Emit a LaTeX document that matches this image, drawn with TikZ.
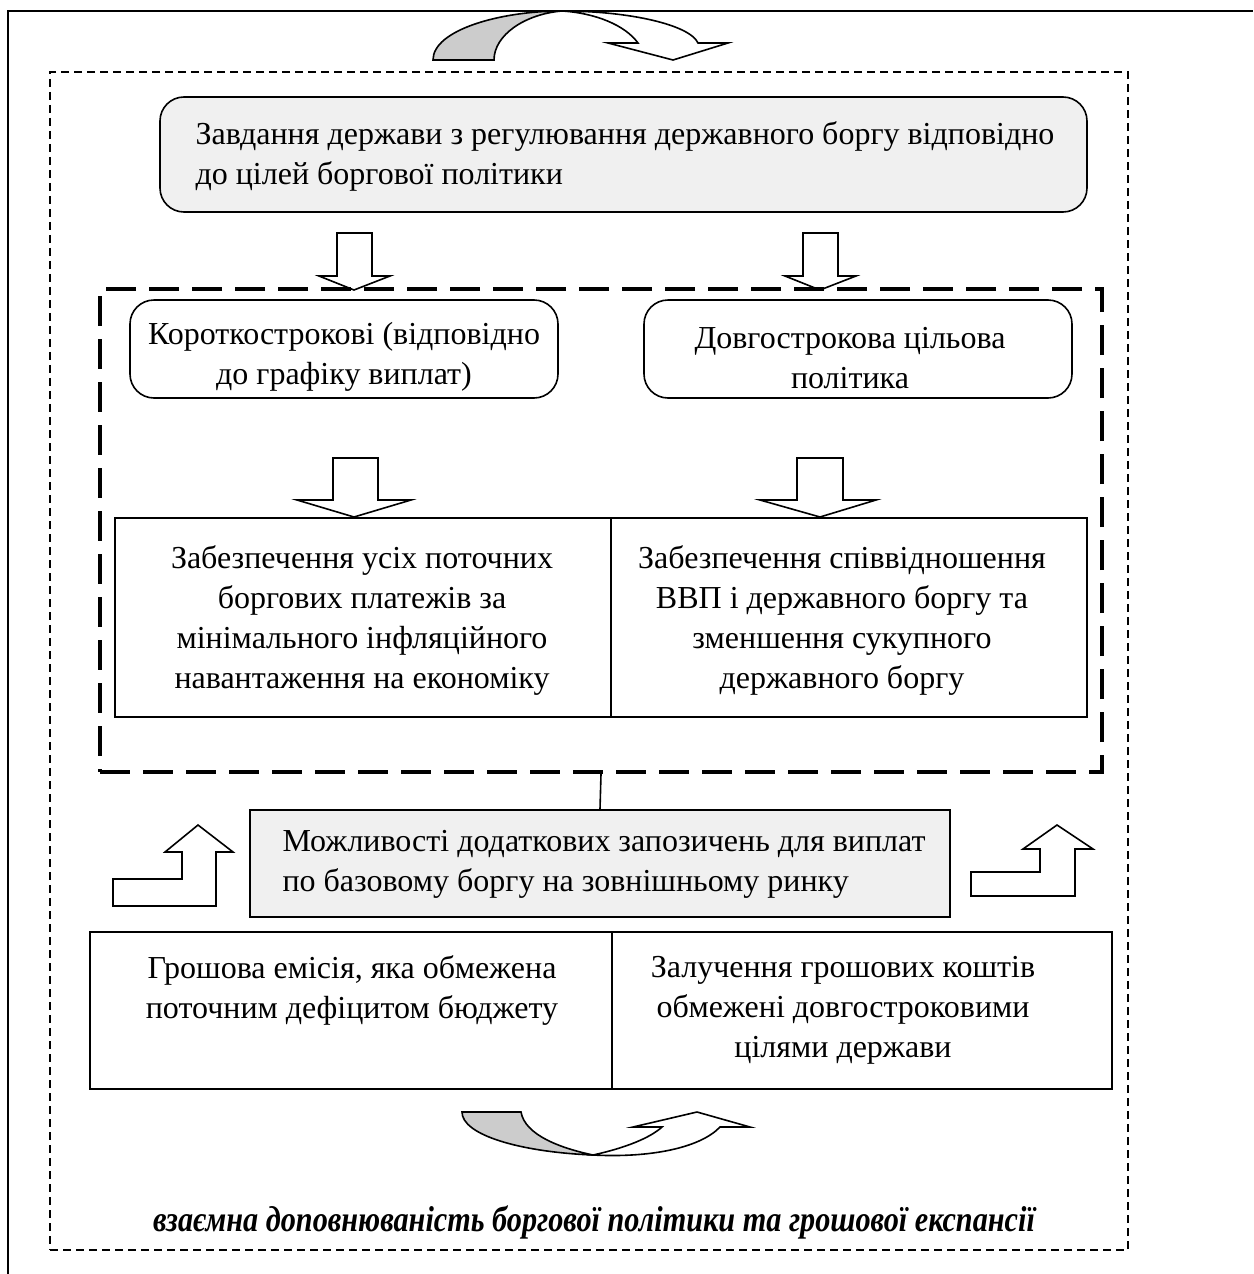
\documentclass[tikz,border=0pt]{standalone}
\usepackage{fontspec}
\setmainfont{Liberation Serif}
\usepackage{graphicx}
\definecolor{boxgray}{HTML}{F0F0F0}
\definecolor{arrgray}{HTML}{CCCCCC}
\begin{document}
\begin{tikzpicture}[x=0.5pt,y=-0.5pt,
  font=\fontsize{16}{20}\selectfont,
  box/.style={draw, line width=0.8pt, inner sep=0pt},
  rbox/.style={box, rounded corners=12pt},
  txt/.style={inner sep=0pt, align=center},
  blockarrow/.style={draw, line width=0.8pt, fill=white, line join=miter},
  grayarrow/.style={draw, line width=0.8pt, fill=arrgray},
  thindash/.style={draw, line width=0.9pt, dash pattern=on 4pt off 2.5pt, inner sep=0pt},
  thickdash/.style={draw, line width=2pt, dash pattern=on 15pt off 6.5pt, inner sep=0pt}]
\useasboundingbox (0,0) rectangle (1253,1274);
% outer frame
\draw[line width=1.2pt] (8,1274) -- (8,11) -- (1253,11);
% outer dashed frame
\node[thindash, minimum width=539pt, minimum height=589pt] (outer) at (589,661) {};
% top curved arrow
\draw[grayarrow] (433,60) .. controls (433,30) and (500,11) .. (562,11)
  .. controls (525,14) and (494,35) .. (494,60) -- cycle;
\draw[blockarrow] (562,11) .. controls (630,11) and (690,25) .. (698,43)
  -- (728,43) -- (673,60) -- (608,43) -- (638,43)
  .. controls (625,25) and (595,13) .. (562,11) -- cycle;
% top box
\node[rbox, fill=boxgray, minimum width=463.5pt, minimum height=57.5pt] (top) at (623.5,154.5) {};
\node[txt, align=left] (toptxt) at (625,156) {Завдання держави з регулювання державного боргу відповідно\\до цілей боргової політики};
% down arrows row 1
\draw[blockarrow] (337,233) -- (372,233) -- (372,276) -- (390,276) -- (354,290) -- (319,276) -- (337,276) -- cycle;
\draw[blockarrow] (803,233) -- (838,233) -- (838,276) -- (856,276) -- (820,290) -- (785,276) -- (803,276) -- cycle;
% thick dashed frame
\node[thickdash, minimum width=501pt, minimum height=241.5pt] (frame) at (601,530.5) {};
% rounded boxes
\node[rbox, minimum width=214pt, minimum height=49pt] (short) at (344,349) {};
\node[txt] (shorttxt) at (344,357) {Короткострокові (відповідно\\до графіку виплат)};
\node[rbox, minimum width=214pt, minimum height=49pt] (long) at (858,349) {};
\node[txt] (longtxt) at (850,358) {Довгострокова цільова\\політика};
% down arrows row 2
\draw[blockarrow] (333,458) -- (378,458) -- (378,500) -- (411,500) -- (354,517) -- (297,500) -- (333,500) -- cycle;
\draw[blockarrow] (797,458) -- (843,458) -- (843,500) -- (876,500) -- (820,517) -- (760,500) -- (797,500) -- cycle;
% cells
\node[box, minimum width=248pt, minimum height=99.5pt] (c1) at (363,617.5) {};
\node[box, minimum width=238pt, minimum height=99.5pt] (c2) at (849,617.5) {};
\node[txt] (c1txt) at (362,620) {Забезпечення усіх поточних\\боргових платежів за\\мінімального інфляційного\\навантаження на економіку};
\node[txt] (c2txt) at (842,620) {Забезпечення співвідношення\\ВВП і державного боргу та\\зменшення сукупного\\державного боргу};
% gray box
\node[box, fill=boxgray, minimum width=350pt, minimum height=53.5pt] (gb) at (600,863.5) {};
\node[txt, align=left] (gbtxt) at (604,864) {Можливості додаткових запозичень для виплат\\по базовому боргу на зовнішньому ринку};
\draw[line width=0.8pt] (frame.south) -- (gb.north);
% L arrows
\draw[blockarrow] (113,906) -- (113,879) -- (182,879) -- (182,852) -- (165,852) -- (198,825) -- (233,852) -- (216,852) -- (216,906) -- cycle;
\draw[blockarrow] (971,896) -- (971,872) -- (1040,872) -- (1040,849) -- (1023,849) -- (1057,825) -- (1093,849) -- (1075,849) -- (1075,896) -- cycle;
% bottom cells
\node[box, minimum width=261pt, minimum height=78.5pt] (d1) at (351,1010.5) {};
\node[box, minimum width=250pt, minimum height=78.5pt] (d2) at (862,1010.5) {};
\node[txt] (d1txt) at (352,990) {Грошова емісія, яка обмежена\\поточним дефіцитом бюджету};
\node[txt] (d2txt) at (843,1010) {Залучення грошових коштів\\обмежені довгостроковими\\цілями держави};
% bottom curved arrow
\draw[grayarrow] (462,1112) -- (521,1112) .. controls (525,1135) and (560,1148) .. (593,1155)
  .. controls (520,1152) and (462,1135) .. (462,1112) -- cycle;
\draw[blockarrow] (593,1155) .. controls (625,1148) and (650,1138) .. (662,1127)
  -- (633,1127) -- (697,1112) -- (750,1127) -- (720,1127)
  .. controls (700,1148) and (650,1158) .. (593,1155) -- cycle;
% caption
\node[txt] (caption) at (594,1222) {\scalebox{0.84}[1]{\fontsize{18}{20}\selectfont\bfseries\itshape взаємна доповнюваність боргової політики та грошової експансії}};
\end{tikzpicture}
\end{document}
